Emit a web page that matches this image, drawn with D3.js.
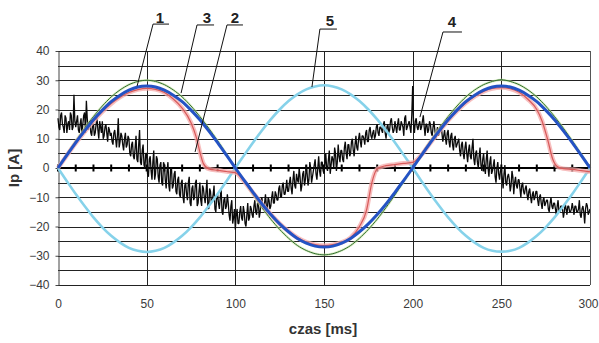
<!DOCTYPE html>
<html><head><meta charset="utf-8">
<script src="https://cdn.jsdelivr.net/npm/d3@7"></script>
<style>body{margin:0;background:#fff}svg{display:block}</style>
</head><body>
<svg id="c" width="599" height="343"></svg>
<script>
// ---- data ----
const xTicks = [0, 50, 100, 150, 200, 250, 300];
const yTicks = [-40, -30, -20, -10, 0, 10, 20, 30, 40];
const yGrid = [-40, -35, -30, -25, -20, -15, -10, -5, 0, 5, 10, 15, 20, 25, 30, 35, 40];
const zeroTicks = [0,10,20,30,40,50,60,70,80,90,100,110,120,130,140,150,160,170,180,190,200,210,220,230,240,250,260,270,280,290,300];
const t5 = d3.range(0, 301, 5);
const t1 = d3.range(0, 301, 1);
const tHalf = d3.range(0.5, 300, 1);

const blue = [0,4.4,8.7,12.7,16.5,19.8,22.7,24.9,26.6,27.7,28,
  27.7,26.6,24.9,22.7,19.8,16.5,12.7,8.7,4.4,0,
  -4.2,-8.3,-12.3,-15.9,-19.1,-21.8,-24.1,-25.7,-26.7,-27,
  -26.7,-25.7,-24.1,-21.8,-19.1,-15.9,-12.3,-8.3,-4.2,0,
  4.4,8.7,12.7,16.5,19.8,22.7,24.9,26.6,27.7,28,
  27.7,26.6,24.9,22.7,19.8,16.5,12.7,8.7,4.4,0];
const green = [0,4.7,9.3,13.6,17.6,21.2,24.3,26.7,28.5,29.6,30,
  29.6,28.5,26.7,24.3,21.2,17.6,13.6,9.3,4.7,0,
  -4.6,-9.2,-13.5,-17.5,-21,-24,-26.5,-28.2,-29.3,-29.7,
  -29.3,-28.2,-26.5,-24,-21,-17.5,-13.5,-9.2,-4.6,0,
  4.7,9.3,13.6,17.6,21.2,24.3,26.7,28.5,29.6,30.2,
  29.6,28.5,26.7,24.3,21.2,17.6,13.6,9.3,4.7,0];
const cyan = [0,-4.5,-8.9,-13,-16.9,-20.3,-23.2,-25.5,-27.3,-28.3,-28.7,
  -28.3,-27.3,-25.5,-23.2,-20.3,-16.9,-13,-8.9,-4.5,0,
  4.4,8.7,12.8,16.6,20,22.9,25.2,26.9,27.9,28.3,
  27.9,26.9,25.2,22.9,20,16.6,12.8,8.7,4.4,0,
  -4.5,-8.9,-13,-16.9,-20.3,-23.2,-25.5,-27.3,-28.3,-28.6,
  -28.3,-27.3,-25.5,-23.2,-20.3,-16.9,-13,-8.9,-4.5,0];
const redT = [0,5,10,15,20,25,30,35,40,45,50,55,60,65,70,75,78,80,82,85,
  90,95,100,105,110,115,120,125,130,135,140,145,150,155,160,165,170,174,177,180,
  185,190,195,200,205,210,215,220,225,230,235,240,245,250,255,260,265,270,273,276,279,282,285,290,295,300];
const redV = [0,4.3,8.5,12.4,16,19.3,22,24.2,25.8,26.8,27.2,26.9,25.8,23.6,20.5,15.5,10.5,5.5,1.5,-0.3,
  -0.8,-1.2,-1.6,-4.6,-8.5,-12.3,-15.8,-19,-21.6,-23.8,-25.3,-26.2,-26.5,-26.2,-25.4,-23.8,-20,-14.4,-5,-0.3,
  0.8,1.2,1.6,1.9,4.5,8.6,12.5,16.2,19.5,22.3,24.5,26.2,27.2,27.5,27.1,25.9,23.5,20,16,10,3,0.3,-0.2,-0.5,-0.9,-1.3];
// noisy current, samples at whole ms
const black = [
  17,13,19,14,18,12,16,19,13,25,
  14,18,12,17,15,19,23,13,16,11,
  15,12,17,10,14,16,11,15,9,13,
  12,8,13,7,17,9,11,6,12,8,
  10,4,9,3,11,2,13,1,8,0,
  5,-3,4,-4,6,-2,3,-5,2,-6,
  1,-7,2,-8,0,-6,-1,-9,-3,-10,
  -4,-12,-5,-11,-3,-13,-6,-10,-4,-12,
  -5,-13,-7,-12,-4,-14,-8,-11,-6,-15,
  -9,-14,-7,-16,-10,-13,-12,-18,-11,-17,
  -21,-14,-19,-13,-18,-15,-20,-12,-17,-14,
  -17,-11,-16,-12,-15,-10,-14,-9,-15,-11,
  -13,-8,-12,-9,-11,-6,-10,-5,-9,-4,
  -8,-3,-9,-1,-7,-4,0,-8,-2,-6,
  1,-6,2,-5,-1,3,-4,4,-3,2,
  -2,5,-1,6,1,3,7,-1,8,2,
  6,2,9,3,8,5,10,4,11,6,
  12,7,11,8,13,9,14,10,13,11,
  15,11,14,12,16,10,15,13,17,12,
  16,12,17,13,15,11,18,14,16,12,
  28,12,17,13,16,14,18,11,15,13,
  15,11,16,10,14,12,15,9,13,8,
  13,7,12,6,11,8,10,4,9,3,
  9,2,8,3,10,1,6,0,7,-1,
  5,-2,6,-3,4,-1,3,-5,2,-4,
  0,-7,1,-6,-2,-8,-1,-9,-3,-7,
  -4,-10,-5,-9,-6,-11,-7,-12,-8,-10,
  -8,-13,-9,-14,-10,-12,-11,-15,-10,-14,
  -12,-16,-11,-15,-13,-17,-12,-16,-13,-15,
  -12,-16,-13,-15,-11,-17,-13,-19,-12,-16,
  -14];
// noisy current, samples at half ms
const blackHalf = [
  14,18,15,12,17,15,13,18,14,16,
  16,13,15,11,18,12,17,15,12,15,
  11,15,13,16,12,10,14,12,14,11,
  9,12,10,11,7,12,8,10,7,11,
  5,8,4,7,3,8,2,6,1,5,
  -2,3,-1,2,-4,4,-3,1,-5,2,
  -4,-1,-6,0,-7,-2,-8,-4,-9,-5,
  -10,-6,-9,-5,-12,-7,-11,-5,-13,-8,
  -11,-6,-10,-8,-13,-7,-12,-9,-14,-10,
  -12,-10,-15,-11,-14,-9,-16,-13,-19,-14,
  -16,-19,-15,-17,-13,-19,-16,-18,-13,-16,
  -13,-15,-12,-17,-11,-14,-12,-13,-10,-14,
  -10,-12,-8,-11,-7,-10,-6,-9,-7,-8,
  -5,-7,-4,-6,-2,-5,-3,-6,-1,-4,
  -2,-4,0,-3,1,-2,0,-1,2,-1,
  1,0,3,-2,4,0,5,2,4,6,
  3,7,5,8,4,9,6,8,7,10,
  9,11,10,12,9,13,11,12,10,14,
  12,14,13,15,12,14,12,16,14,13,
  14,15,13,16,14,17,13,15,14,18,
  15,16,14,15,13,16,14,15,12,16,
  12,14,13,12,11,14,12,11,10,12,
  9,11,8,10,7,9,6,8,5,7,
  5,6,4,7,3,5,2,4,1,3,
  1,3,0,2,-2,1,-3,0,-2,-1,
  -3,-2,-5,-3,-4,-6,-3,-5,-6,-4,
  -7,-6,-8,-7,-9,-8,-10,-9,-11,-8,
  -11,-10,-12,-11,-13,-11,-14,-12,-13,-12,
  -14,-13,-15,-13,-14,-15,-14,-13,-15,-14,
  -14,-13,-15,-14,-16,-14,-15,-14,-13,-15];
// annotation labels: text position, underline span and leader end (data coords)
const labels = ["1", "3", "2", "5", "4"];
const labelT = [57.5, 84.0, 99.8, 153.4, 222.2];
const labelV = [49.6, 49.6, 49.6, 48.5, 48.2];
const lineV = [49.2, 48.9, 48.9, 47.5, 46.5];
const lineT0 = [53.6, 78.4, 95.3, 147.7, 217.1];
const lineT1 = [62.6, 88.0, 104.3, 157.3, 227.8];
const endT = [44.6, 69.4, 77.3, 143.2, 204.1];
const endV = [28.0, 25.6, 5.5, 27.7, 17.4];

// ---- chart ----
const svg = d3.select("#c");
const x = d3.scaleLinear().domain([0, 300]).range([58, 590]);
const y = d3.scaleLinear().domain([-40, 40]).range([285, 51]);
const px = v => Math.round(x(v)) + 0.5;
const py = v => Math.round(y(v)) + 0.5;
const FONT = "Liberation Sans, Arial, sans-serif";

const g = svg.append("g");
g.selectAll(".hg").data(yGrid).join("line")
  .attr("x1", x(0)).attr("x2", x(300)).attr("y1", d => py(d)).attr("y2", d => py(d))
  .attr("stroke", "#222").attr("stroke-width", 1);
g.selectAll(".vg").data(xTicks.slice(1)).join("line")
  .attr("x1", d => px(d)).attr("x2", d => px(d)).attr("y1", y(40)).attr("y2", y(-40))
  .attr("stroke", "#222").attr("stroke-width", 1);
g.append("line").attr("x1", x(0)).attr("x2", x(300)).attr("y1", y(0)).attr("y2", y(0))
  .attr("stroke", "#000").attr("stroke-width", 2);
g.selectAll(".zt").data(zeroTicks).join("line")
  .attr("x1", d => x(d)).attr("x2", d => x(d)).attr("y1", y(0) - 3.5).attr("y2", y(0) + 3.5)
  .attr("stroke", "#000").attr("stroke-width", 2);

const ya = svg.append("g").attr("transform", `translate(${px(0)},0)`)
  .call(d3.axisLeft(y).tickValues(yTicks).tickSize(3).tickSizeOuter(0).tickPadding(6));
ya.select(".domain").attr("stroke", "#444");
ya.selectAll(".tick line").attr("stroke", "#444");
ya.selectAll("text").attr("font-family", FONT).attr("font-size", 12).attr("fill", "#3a3a3a");
const xa = svg.append("g").attr("transform", `translate(0,${y(-40)})`)
  .call(d3.axisBottom(x).tickValues(xTicks).tickSize(0).tickPadding(14));
xa.select(".domain").remove();
xa.selectAll("text").attr("font-family", FONT).attr("font-size", 12).attr("fill", "#3a3a3a")
  .attr("dx", d => d === 300 ? -2 : 0);

// noisy curve: interleave whole-ms and half-ms samples
const noisePts = t1.map((t, i) => [t, black[i]])
  .concat(tHalf.map((t, i) => [t, blackHalf[i]]))
  .sort((a, b) => a[0] - b[0]);
const lineNoise = d3.line().x(d => x(d[0])).y(d => y(d[1]));
svg.append("path").attr("d", lineNoise(noisePts)).attr("fill", "none")
  .attr("stroke", "#0a0a0a").attr("stroke-width", 1.3).attr("stroke-linejoin", "bevel");

const smooth = d3.line().x((d, i) => x(t5[i])).y(d => y(d)).curve(d3.curveCardinal.tension(0.2));
svg.append("path").attr("d", smooth(cyan)).attr("fill", "none")
  .attr("stroke", "#86d2ea").attr("stroke-width", 2.6);
svg.append("path").attr("d", smooth(green)).attr("fill", "none")
  .attr("stroke", "#c8e6a0").attr("stroke-width", 2.5).attr("opacity", 0.6);
svg.append("path").attr("d", smooth(green)).attr("fill", "none")
  .attr("stroke", "#2e6b2e").attr("stroke-width", 1);

const redLine = d3.line().x((d, i) => x(redT[i])).y(d => y(d)).curve(d3.curveMonotoneX);
svg.append("path").attr("d", redLine(redV)).attr("fill", "none")
  .attr("stroke", "#f4aaaa").attr("stroke-width", 4.5).attr("opacity", 0.75);
svg.append("path").attr("d", redLine(redV)).attr("fill", "none")
  .attr("stroke", "#d85a5a").attr("stroke-width", 1.2);

svg.append("path").attr("d", smooth(blue)).attr("fill", "none")
  .attr("stroke", "#2453c4").attr("stroke-width", 3);

svg.append("line").attr("x1", px(300)).attr("x2", px(300)).attr("y1", y(40)).attr("y2", y(-40))
  .attr("stroke", "#555").attr("stroke-width", 1);

// annotations
const ann = svg.append("g");
labels.forEach((L, i) => {
  ann.append("path")
    .attr("d", `M${x(lineT1[i])},${y(lineV[i])}L${x(lineT0[i])},${y(lineV[i])}L${x(endT[i])},${y(endV[i])}`)
    .attr("fill", "none").attr("stroke", "#111").attr("stroke-width", 1);
  ann.append("text").attr("x", x(labelT[i])).attr("y", y(labelV[i]))
    .attr("text-anchor", "middle").attr("font-family", FONT)
    .attr("font-weight", "bold").attr("font-size", 15).attr("fill", "#222").text(L);
});

svg.append("text").attr("x", 323).attr("y", 334).attr("text-anchor", "middle")
  .attr("font-family", FONT).attr("font-weight", "bold")
  .attr("font-size", 15).attr("fill", "#333").text("czas [ms]");
svg.append("text").attr("transform", "translate(19,168) rotate(-90)").attr("text-anchor", "middle")
  .attr("font-family", FONT).attr("font-weight", "bold")
  .attr("font-size", 15).attr("fill", "#333").text("Ip [A]");
</script>
</body></html>
